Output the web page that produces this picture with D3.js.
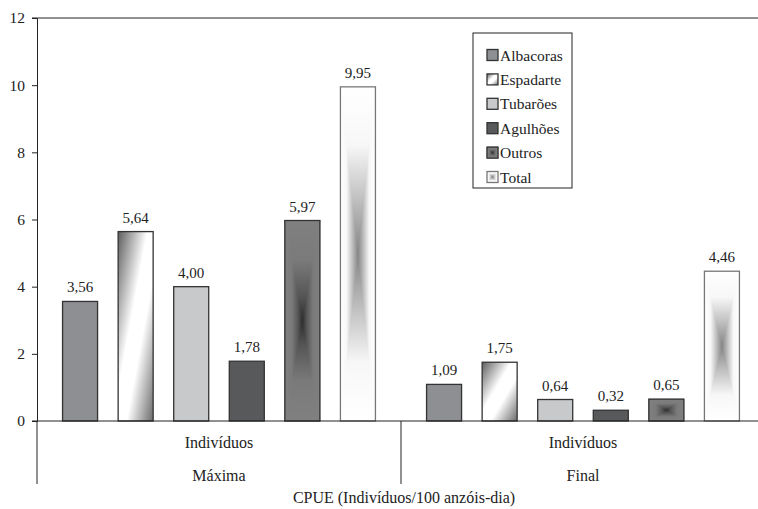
<!DOCTYPE html>
<html><head><meta charset="utf-8">
<script src="https://cdn.jsdelivr.net/npm/d3@7"></script>
<style>
html,body{margin:0;padding:0;background:#fff;}
text{font-family:"Liberation Serif","DejaVu Serif",serif;fill:#222;}
</style></head>
<body><svg id="c" width="758" height="509"></svg>
<script>
const groups = ["Máxima", "Final"];
const groupSubLabel = "Indivíduos";
const series = ["Albacoras", "Espadarte", "Tubarões", "Agulhões", "Outros", "Total"];
const valuesMaxima = [3.56, 5.64, 4.00, 1.78, 5.97, 9.95];
const valuesFinal = [1.09, 1.75, 0.64, 0.32, 0.65, 4.46];
const yTicks = [0, 2, 4, 6, 8, 10, 12];
const xTitle = "CPUE (Indivíduos/100 anzóis-dia)";

(function () {
const data = groups.map((g, i) => ({group: g, values: (i === 0 ? valuesMaxima : valuesFinal)}));

const svg = d3.select("#c");
const pLeft = 37, pTop = 18, pBottom = 421, pRight = 765;

const y = d3.scaleLinear().domain([0, 12]).range([pBottom, pTop]);
const x0 = d3.scaleBand().domain(groups).range([pLeft, pRight]).padding(0);
const x1 = d3.scaleBand().domain(series).range([0, x0.bandwidth()]).paddingInner(0.37).paddingOuter(0.46);

const defs = svg.append("defs");
function lin(id, x1v, y1v, x2v, y2v, stops) {
  const g = defs.append("linearGradient").attr("id", id)
    .attr("x1", x1v).attr("y1", y1v).attr("x2", x2v).attr("y2", y2v);
  stops.forEach(s => g.append("stop").attr("offset", s[0]).attr("stop-color", s[1]));
}
lin("espadarte", 0, 0, 1, 1, [[0, "#5e5e5e"], [0.42, "#ffffff"], [0.62, "#ffffff"], [1, "#6a6a6a"]]);
const rectStyles = {
  Outros: [[0, "#808080"], [0.4, "#7a7a7a"], [0.75, "#565656"], [1, "#2e2e2e"]],
  Total: [[0, "#ffffff"], [0.35, "#f7f7f7"], [0.65, "#c4c4c4"], [1, "#868686"]]
};
Object.entries(rectStyles).forEach(([k, stops]) => {
  lin(k + "-L", 0, 0, 1, 0, stops);
  lin(k + "-R", 1, 0, 0, 0, stops);
  lin(k + "-T", 0, 0, 0, 1, stops);
  lin(k + "-B", 0, 1, 0, 0, stops);
});
const solid = {Albacoras: "#8e8f93", "Tubarões": "#c8c9cb", "Agulhões": "#58595b", Espadarte: "url(#espadarte)"};
const strokeCol = {Albacoras: "#333", Espadarte: "#333", "Tubarões": "#333", "Agulhões": "#333", Outros: "#333", Total: "#777"};

function drawBox(sel, name, bx, by, bw, bh) {
  if (rectStyles[name]) {
    const cx = bx + bw / 2, cy = by + bh / 2;
    const tris = [
      ["T", [[bx, by], [bx + bw, by], [cx, cy]]],
      ["B", [[bx, by + bh], [bx + bw, by + bh], [cx, cy]]],
      ["L", [[bx, by], [bx, by + bh], [cx, cy]]],
      ["R", [[bx + bw, by], [bx + bw, by + bh], [cx, cy]]]
    ];
    tris.forEach(([s, pts]) => {
      sel.append("polygon").attr("points", pts.map(p => p.join(",")).join(" "))
        .attr("fill", `url(#${name}-${s})`)
        .attr("stroke", `url(#${name}-${s})`).attr("stroke-width", 0.9).attr("stroke-linejoin", "round");
    });
    sel.append("rect").attr("x", bx).attr("y", by).attr("width", bw).attr("height", bh)
      .attr("fill", "none").attr("stroke", strokeCol[name]).attr("stroke-width", 1.3);
  } else {
    sel.append("rect").attr("x", bx).attr("y", by).attr("width", bw).attr("height", bh)
      .attr("fill", solid[name]).attr("stroke", strokeCol[name]).attr("stroke-width", 1.3);
  }
}

svg.append("line").attr("x1", pLeft - 5).attr("x2", pRight).attr("y1", pTop).attr("y2", pTop)
  .attr("stroke", "#222").attr("stroke-width", 1);

const yAxis = svg.append("g").attr("transform", `translate(${pLeft},0)`)
  .call(d3.axisLeft(y).tickValues(yTicks).tickSize(5).tickPadding(7).tickFormat(d3.format("d")));
yAxis.select(".domain").attr("stroke", "#222");
yAxis.selectAll(".tick line").attr("stroke", "#222");
yAxis.selectAll("text").style("font-size", "15.5px").attr("fill", "#222");

const gGroups = svg.append("g").selectAll("g").data(data).join("g")
  .attr("transform", d => `translate(${x0(d.group)},0)`);
gGroups.each(function(d) {
  const g = d3.select(this);
  d.values.forEach((v, i) => {
    const name = series[i];
    const bx = x1(name), bw = x1.bandwidth();
    drawBox(g, name, bx, y(v), bw, y(0) - y(v));
    g.append("text").attr("x", bx + bw / 2).attr("y", y(v) - 9)
      .attr("text-anchor", "middle").style("font-size", "15px").text(d3.format(".2f")(v).replace(".", ","));
  });
});

svg.append("line").attr("x1", pLeft - 5).attr("x2", pRight).attr("y1", pBottom).attr("y2", pBottom)
  .attr("stroke", "#222").attr("stroke-width", 1);
const seps = groups.map(g => x0(g)).concat([x0(groups[groups.length - 1]) + x0.bandwidth()]);
svg.append("g").selectAll("line").data(seps).join("line")
  .attr("x1", d => d).attr("x2", d => d).attr("y1", pBottom).attr("y2", 484)
  .attr("stroke", "#222").attr("stroke-width", 1);
svg.append("g").selectAll("text").data(groups).join("text")
  .attr("x", d => x0(d) + x0.bandwidth() / 2).attr("y", 448)
  .attr("text-anchor", "middle").style("font-size", "16px").text(groupSubLabel);
svg.append("g").selectAll("text").data(groups).join("text")
  .attr("x", d => x0(d) + x0.bandwidth() / 2).attr("y", 481)
  .attr("text-anchor", "middle").style("font-size", "16px").text(d => d);
svg.append("text").attr("x", (pLeft + pRight) / 2 + 3).attr("y", 503).attr("text-anchor", "middle")
  .style("font-size", "16px").text(xTitle);

const lg = svg.append("g").attr("transform", "translate(473,33)");
lg.append("rect").attr("x", 0).attr("y", 0).attr("width", 99).attr("height", 155)
  .attr("fill", "#fff").attr("stroke", "#222").attr("stroke-width", 1);
series.forEach((s, i) => {
  const cy = 22 + i * 24.4;
  const row = lg.append("g");
  drawBox(row, s, 14, cy - 5.5, 11, 11);
  row.append("text").attr("x", 27).attr("y", cy + 5.5).style("font-size", "15.5px").text(s);
});
})();
</script></body></html>
